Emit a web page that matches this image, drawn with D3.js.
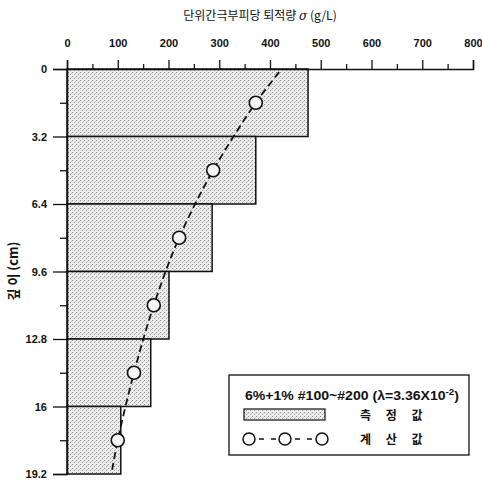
<!DOCTYPE html>
<html>
<head>
<meta charset="utf-8">
<script src="https://cdn.jsdelivr.net/npm/d3@7"></script>
<style>
  body { margin: 0; background: #fff; }
  svg { display: block; }
  text { font-family: "Liberation Sans", Arial, sans-serif; fill: #111; }
  .kr { font-family: "Noto Sans CJK KR", sans-serif; }
</style>
</head>
<body>
<div id="chart"></div>
<script>
// 깊이 구간 (cm) 과 측정값 / 계산값
var depthTicks = [0, 3.2, 6.4, 9.6, 12.8, 16, 19.2];
var depthLabels = ["0", "3.2", "6.4", "9.6", "12.8", "16", "19.2"];
var sigmaTicks = [0, 100, 200, 300, 400, 500, 600, 700, 800];
var layerTop = [0, 3.2, 6.4, 9.6, 12.8, 16];
var layerBottom = [3.2, 6.4, 9.6, 12.8, 16, 19.2];
var measured = [475, 372, 286, 201, 165, 106];
var calcDepth = [1.6, 4.8, 8.0, 11.2, 14.4, 17.6];
var calcValue = [372, 288, 221, 171, 132, 100];
var curveDepth = [0.15, 1.6, 4.8, 8.0, 11.2, 14.4, 17.6, 19.0];
var curveValue = [418, 372, 288, 221, 171, 132, 100, 89];

var W = 482, H = 480;
var svg = d3.select("#chart").append("svg")
    .attr("width", W).attr("height", H);

// 점묘 패턴
var defs = svg.append("defs");
var pat = defs.append("pattern")
    .attr("id", "stip")
    .attr("patternUnits", "userSpaceOnUse")
    .attr("width", 4).attr("height", 4);
pat.append("rect").attr("width", 4).attr("height", 4).attr("fill", "#ececec");
pat.append("rect").attr("x", 0).attr("y", 0).attr("width", 1).attr("height", 1).attr("fill", "#8a8a8a");
pat.append("rect").attr("x", 2).attr("y", 2).attr("width", 1).attr("height", 1).attr("fill", "#9a9a9a");
pat.append("rect").attr("x", 3).attr("y", 1).attr("width", 1).attr("height", 1).attr("fill", "#c4c4c4");

var x = d3.scaleLinear().domain([0, 800]).range([67, 473]);
var y = d3.scaleLinear().domain([0, 19.2]).range([69, 474]);

// 막대 (측정값)
var layers = measured.map(function (v, i) {
    return { top: layerTop[i], bottom: layerBottom[i], value: v };
});
svg.selectAll("rect.bar")
    .data(layers)
    .enter()
    .append("rect")
    .attr("class", "bar")
    .attr("x", x(0))
    .attr("y", function (d) { return y(d.top); })
    .attr("width", function (d) { return x(d.value) - x(0); })
    .attr("height", function (d) { return y(d.bottom) - y(d.top); })
    .attr("fill", "url(#stip)")
    .attr("stroke", "#111")
    .attr("stroke-width", 1.5);

// 상단 축
svg.append("g")
    .attr("transform", "translate(0," + y(0) + ")")
    .call(d3.axisTop(x).tickValues(sigmaTicks).tickSize(9).tickPadding(13).tickFormat(d3.format("d")));
svg.append("g")
    .attr("transform", "translate(0," + y(0) + ")")
    .call(d3.axisTop(x).tickValues(d3.range(50, 800, 100)).tickSize(5).tickFormat(""))
    .select(".domain").remove();

// 왼쪽 축
svg.append("g")
    .attr("transform", "translate(" + x(0) + ",0)")
    .call(d3.axisLeft(y).tickValues(depthTicks).tickSize(14).tickPadding(6)
        .tickFormat(function (d, i) { return depthLabels[i]; }));
svg.append("g")
    .attr("transform", "translate(" + x(0) + ",0)")
    .call(d3.axisLeft(y).tickValues(layerTop.map(function (d, i) { return (d + layerBottom[i]) / 2; })).tickSize(7).tickFormat(""))
    .select(".domain").remove();

svg.selectAll(".domain").attr("stroke", "#111").attr("stroke-width", 1.5);
svg.selectAll(".tick line").attr("stroke", "#111").attr("stroke-width", 1.3);
svg.selectAll(".tick text")
    .style("font-family", "'Liberation Sans', Arial, sans-serif")
    .style("font-size", "11px")
    .style("font-weight", "bold")
    .attr("fill", "#111");

// 계산값 곡선
var line = d3.line()
    .x(function (d) { return x(d.v); })
    .y(function (d) { return y(d.z); })
    .curve(d3.curveCatmullRom);
var curvePts = curveDepth.map(function (z, i) { return { z: z, v: curveValue[i] }; });
svg.append("path")
    .datum(curvePts)
    .attr("d", line)
    .attr("fill", "none")
    .attr("stroke", "#111")
    .attr("stroke-width", 1.8)
    .attr("stroke-dasharray", "7,4");

svg.selectAll("circle.calc")
    .data(calcDepth.map(function (z, i) { return { z: z, v: calcValue[i] }; }))
    .enter()
    .append("circle")
    .attr("class", "calc")
    .attr("cx", function (d) { return x(d.v); })
    .attr("cy", function (d) { return y(d.z); })
    .attr("r", 6.5)
    .attr("fill", "#f4f4f4")
    .attr("stroke", "#111")
    .attr("stroke-width", 1.6);

// 제목
var title = svg.append("text")
    .attr("x", 260).attr("y", 20)
    .attr("text-anchor", "middle")
    .attr("class", "kr")
    .style("font-size", "12px");
title.append("tspan").text("단위간극부피당 퇴적량 ");
title.append("tspan").attr("font-style", "italic").style("font-family", "'DejaVu Serif', serif").text("σ");
title.append("tspan").text(" (g/L)");

svg.append("text")
    .attr("class", "kr")
    .attr("transform", "translate(18," + 271 + ") rotate(-90)")
    .attr("text-anchor", "middle")
    .style("font-size", "13px")
    .style("font-weight", "bold")
    .text("깊 이 (cm)");

// 범례
var lg = svg.append("g");
lg.append("rect")
    .attr("x", 229).attr("y", 375).attr("width", 240).attr("height", 80)
    .attr("fill", "#fff").attr("stroke", "#111").attr("stroke-width", 1.3);
var lt = lg.append("text")
    .attr("x", 245).attr("y", 400)
    .attr("textLength", 214)
    .attr("lengthAdjust", "spacingAndGlyphs")
    .style("font-size", "13px").style("font-weight", "bold");
lt.append("tspan").text("6%+1% #100~#200 (λ=3.36X10");
lt.append("tspan").attr("dy", -5).style("font-size", "9px").text("-2");
lt.append("tspan").attr("dy", 5).text(")");
lg.append("rect")
    .attr("x", 244).attr("y", 409).attr("width", 81).attr("height", 11)
    .attr("fill", "url(#stip)").attr("stroke", "#111").attr("stroke-width", 1.2);
lg.append("text").attr("class", "kr")
    .attr("x", 360).attr("y", 420)
    .style("font-size", "12px").style("font-weight", "bold")
    .style("letter-spacing", "6px")
    .text("측 정 값");
lg.append("line")
    .attr("x1", 249).attr("x2", 322).attr("y1", 439).attr("y2", 439)
    .attr("stroke", "#111").attr("stroke-width", 1.6).attr("stroke-dasharray", "5,7")
    .attr("stroke-dashoffset", -10);
lg.selectAll("circle")
    .data([249, 285, 322])
    .enter().append("circle")
    .attr("cx", function (d) { return d; }).attr("cy", 439).attr("r", 6)
    .attr("fill", "#fff").attr("stroke", "#111").attr("stroke-width", 1.5);
lg.append("text").attr("class", "kr")
    .attr("x", 360).attr("y", 444)
    .style("font-size", "12px").style("font-weight", "bold")
    .style("letter-spacing", "6px")
    .text("계 산 값");
</script>
</body>
</html>
